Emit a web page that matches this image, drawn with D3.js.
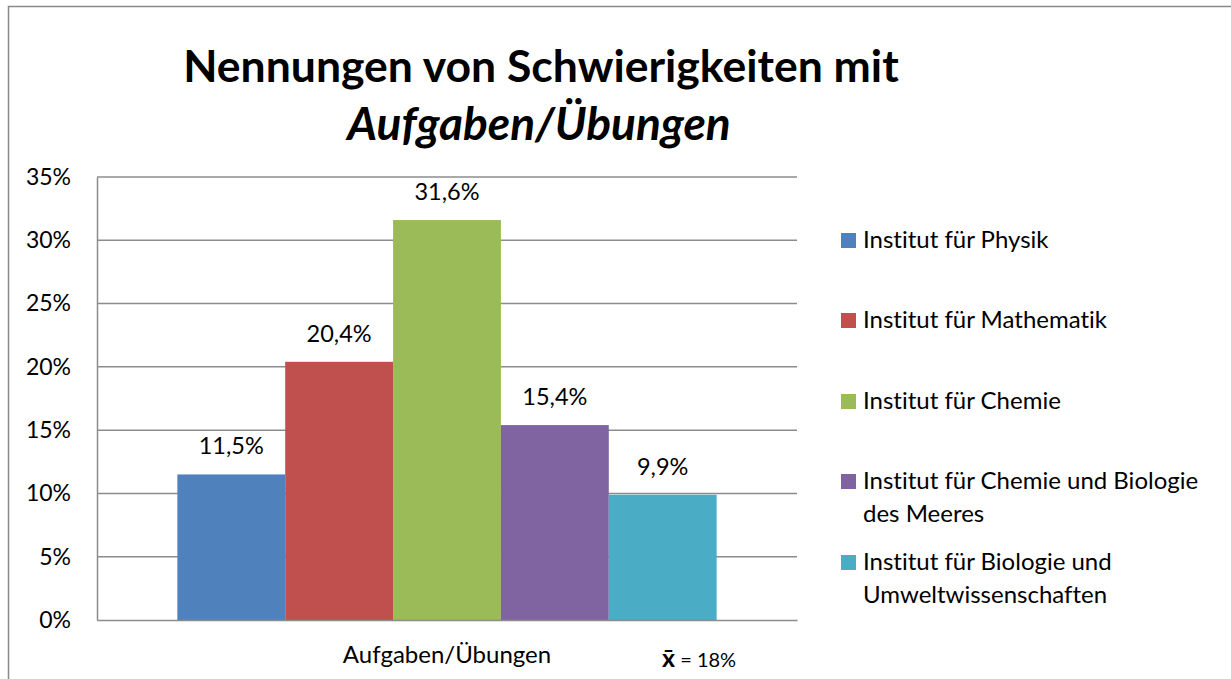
<!DOCTYPE html>
<html>
<head>
<meta charset="utf-8">
<script src="https://cdn.jsdelivr.net/npm/d3@7"></script>
<style>
  body { margin: 0; background: #fff; }
  svg { display: block; font-family: Lato, "Open Sans", sans-serif; font-variant-ligatures: none; }
</style>
</head>
<body>
<div id="chart"></div>
<script>
// Chart data
const categories = ["Aufgaben/Übungen"];
const institutes = [
  "Institut für Physik",
  "Institut für Mathematik",
  "Institut für Chemie",
  "Institut für Chemie und Biologie des Meeres",
  "Institut für Biologie und Umweltwissenschaften"
];
const values = [11.5, 20.4, 31.6, 15.4, 9.9];
const legendLines = [
  ["Institut für Physik"],
  ["Institut für Mathematik"],
  ["Institut für Chemie"],
  ["Institut für Chemie und Biologie", "des Meeres"],
  ["Institut für Biologie und", "Umweltwissenschaften"]
];
const yTicks = [0, 5, 10, 15, 20, 25, 30, 35];
const meanValue = 18;
const colors = ["#4F81BD", "#C0504D", "#9BBB59", "#8064A2", "#4BACC6"];

const W = 1231, H = 679;
const plot = { left: 97, right: 797, top: 177, bottom: 620 };

const svg = d3.select("#chart").append("svg")
  .attr("width", W)
  .attr("height", H);

// Outer chart border (right/bottom edges run off the picture)
svg.append("rect")
  .attr("x", 8.5).attr("y", 6.5)
  .attr("width", W + 20).attr("height", H + 20)
  .attr("fill", "none")
  .attr("stroke", "#8a8a8a")
  .attr("stroke-width", 1.5);

// Title
const title = svg.append("text")
  .attr("text-anchor", "middle")
  .attr("font-weight", "bold")
  .attr("font-size", 44.5)
  .attr("fill", "#000");
title.append("tspan").attr("x", 541).attr("y", 82).text("Nennungen von Schwierigkeiten mit");
title.append("tspan").attr("x", 539).attr("y", 140).attr("font-style", "italic").attr("font-size", 46).text("Aufgaben/Übungen");

// Scales
const y = d3.scaleLinear().domain([0, 35]).range([plot.bottom, plot.top]);
const x0 = d3.scaleBand().domain(categories).range([plot.left, plot.right]).paddingInner(0).paddingOuter(0.149);
const x1 = d3.scaleBand().domain(institutes).range([0, x0.bandwidth()]).padding(0);

// Gridlines
svg.append("g")
  .selectAll("line")
  .data(yTicks.filter(d => d > 0))
  .enter()
  .append("line")
  .attr("x1", plot.left).attr("x2", plot.right)
  .attr("y1", d => y(d)).attr("y2", d => y(d))
  .attr("stroke", "#8c8c8c")
  .attr("stroke-width", 1.5);

// Y axis
const yAxis = svg.append("g")
  .attr("transform", `translate(${plot.left},0)`)
  .call(d3.axisLeft(y).tickValues(yTicks).tickSize(0).tickPadding(26).tickFormat(d => d + "%"));
yAxis.select(".domain").attr("stroke", "#8c8c8c").attr("stroke-width", 1.5);
yAxis.selectAll("text")
  .attr("font-family", "Lato, sans-serif")
  .attr("font-size", 23)
  .attr("fill", "#000");

// Bars
const barG = svg.append("g").attr("transform", `translate(${x0(categories[0])},0)`);
barG.selectAll("rect")
  .data(values)
  .enter()
  .append("rect")
  .attr("x", (d, i) => x1(institutes[i]))
  .attr("y", d => y(d))
  .attr("width", x1.bandwidth())
  .attr("height", d => y(0) - y(d))
  .attr("fill", (d, i) => colors[i]);

// Value labels
barG.selectAll("text")
  .data(values)
  .enter()
  .append("text")
  .attr("x", (d, i) => x1(institutes[i]) + x1.bandwidth() / 2)
  .attr("y", d => y(d) - 20)
  .attr("text-anchor", "middle")
  .attr("font-size", 23.5)
  .text(d => d.toFixed(1).replace(".", ",") + "%");

// X axis
const xAxis = svg.append("g")
  .attr("transform", `translate(0,${plot.bottom})`)
  .call(d3.axisBottom(x0).tickSize(0).tickPadding(26));
xAxis.select(".domain").attr("stroke", "#8c8c8c").attr("stroke-width", 1.5);
xAxis.selectAll("text")
  .attr("font-family", "Lato, sans-serif")
  .attr("font-size", 24)
  .attr("fill", "#000");

// Mean annotation
const mean = svg.append("text")
  .attr("x", 662).attr("y", 667)
  .attr("font-size", 20);
mean.append("tspan").attr("font-weight", "bold").attr("font-size", 25).text("x\u0304");
mean.append("tspan").text(` = ${meanValue}%`);

// Legend
const legendTops = [233, 313, 394, 474, 555];
const legend = svg.append("g");
legendLines.forEach((lines, i) => {
  legend.append("rect")
    .attr("x", 841).attr("y", legendTops[i])
    .attr("width", 15).attr("height", 15)
    .attr("fill", colors[i]);
  const t = legend.append("text").attr("font-size", 24);
  lines.forEach((line, j) => {
    t.append("tspan")
      .attr("x", 863)
      .attr("y", legendTops[i] + 15 + j * 33)
      .text(line);
  });
});
</script>
</body>
</html>
